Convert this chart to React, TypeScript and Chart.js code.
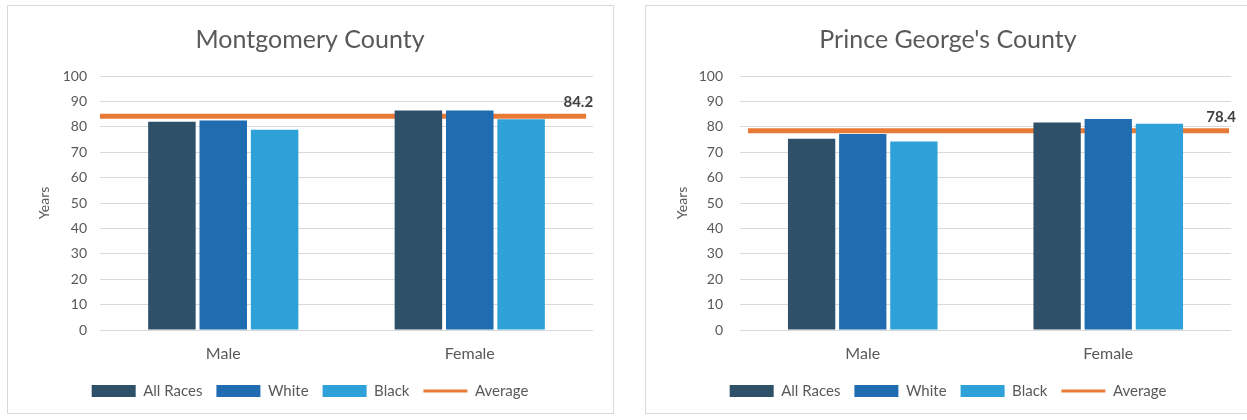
import React, { useEffect, useRef } from 'react';
import { Chart, registerables } from 'chart.js';

Chart.register(...registerables);

const categories = ['Male', 'Female'];
const seriesNames = ['All Races', 'White', 'Black', 'Average'];

const montgomeryAllRaces = [82.0, 86.4];
const montgomeryWhite = [82.5, 86.4];
const montgomeryBlack = [78.8, 83.0];
const montgomeryAverage = 84.2;

const pgAllRaces = [75.3, 81.7];
const pgWhite = [77.2, 83.1];
const pgBlack = [74.2, 81.2];
const pgAverage = 78.4;

const yMin = 0;
const yMax = 100;
const yStep = 10;

const COLORS = {
  all: '#2E5068',
  white: '#1F6CB1',
  black: '#2DA1D8',
  avg: '#E97A36',
  text: '#595959',
  grid: '#D9D9D9',
};

const FONT = 'Lato, "Open Sans", sans-serif';

const avgLabelPlugin = {
  id: 'avgLabel',
  afterDatasetsDraw(chart: any) {
    const idx = chart.data.datasets.findIndex((d: any) => d.type === 'line');
    if (idx < 0) return;
    const meta = chart.getDatasetMeta(idx);
    const pts = meta.data;
    if (!pts.length) return;
    const last = pts[pts.length - 1];
    const value = chart.data.datasets[idx].data[pts.length - 1].y;
    const ctx = chart.ctx;
    ctx.save();
    ctx.font = `bold 15px ${FONT}`;
    ctx.fillStyle = '#404040';
    ctx.textAlign = 'right';
    ctx.textBaseline = 'middle';
    ctx.fillText(value.toFixed(1), last.x + 7, last.y - 13.5);
    ctx.restore();
  },
};

type Spec = {
  title: string;
  allRaces: number[];
  white: number[];
  black: number[];
  avg: number;
  yAxisWidth: number;
  tickPad: number;
  avgFrom: number;
  avgTo: number;
};

function toPoints(values: number[]) {
  return values.map((v, i) => ({ x: i + 0.5, y: v }));
}

function makeConfig(s: Spec): any {
  const barCommon = {
    categoryPercentage: 0.625,
    barPercentage: 0.925,
    borderWidth: 0,
  };
  const datasets: any[] = [
    { type: 'bar', label: seriesNames[0], data: toPoints(s.allRaces), backgroundColor: COLORS.all, ...barCommon },
    { type: 'bar', label: seriesNames[1], data: toPoints(s.white), backgroundColor: COLORS.white, ...barCommon },
    { type: 'bar', label: seriesNames[2], data: toPoints(s.black), backgroundColor: COLORS.black, ...barCommon },
    {
      type: 'line',
      label: seriesNames[3],
      data: [
        { x: s.avgFrom, y: s.avg },
        { x: s.avgTo, y: s.avg },
      ],
      borderColor: COLORS.avg,
      backgroundColor: COLORS.avg,
      borderWidth: 5,
      pointRadius: 0,
      fill: false,
    },
  ];
  return {
    type: 'bar',
    data: { datasets },
    options: {
      responsive: false,
      animation: false,
      devicePixelRatio: 1,
      layout: { padding: { left: 19, right: 19, top: 0, bottom: 7.5 } },
      scales: {
        x: {
          type: 'linear',
          min: 0,
          max: categories.length,
          offset: false,
          grid: { display: false, drawTicks: false },
          border: { display: false },
          afterBuildTicks: (sc: any) => {
            sc.ticks = categories.map((_, i) => ({ value: i + 0.5 }));
          },
          ticks: {
            color: COLORS.text,
            font: { family: FONT, size: 16 },
            padding: 14,
            autoSkip: false,
            maxRotation: 0,
            callback: (_v: any, i: number) => categories[i],
          },
          afterFit: (sc: any) => {
            sc.height = 39.5;
          },
        },
        y: {
          min: yMin,
          max: yMax,
          border: { display: false },
          grid: { color: COLORS.grid, lineWidth: 1, drawTicks: false },
          ticks: {
            stepSize: yStep,
            color: COLORS.text,
            font: { family: FONT, size: 14 },
            padding: s.tickPad,
          },
          title: {
            display: true,
            text: 'Years',
            color: COLORS.text,
            font: { family: FONT, size: 14 },
            padding: { top: 9, bottom: 0 },
          },
          afterFit: (sc: any) => {
            sc.width = s.yAxisWidth;
          },
        },
      },
      plugins: {
        tooltip: { enabled: false },
        title: {
          display: true,
          text: s.title,
          color: COLORS.text,
          font: { family: FONT, size: 25, weight: 'normal' },
          padding: { top: 19, bottom: 21 },
        },
        legend: {
          position: 'bottom',
          labels: {
            usePointStyle: true,
            pointStyleWidth: 44,
            boxHeight: 12,
            padding: 14,
            color: COLORS.text,
            font: { family: FONT, size: 15 },
            generateLabels: (chart: any) =>
              chart.data.datasets.map((ds: any, i: number) => {
                const isLine = ds.type === 'line';
                return {
                  text: ds.label,
                  fillStyle: isLine ? ds.borderColor : ds.backgroundColor,
                  strokeStyle: isLine ? ds.borderColor : ds.backgroundColor,
                  lineWidth: isLine ? 3 : 0,
                  pointStyle: isLine ? 'line' : 'rect',
                  hidden: false,
                  datasetIndex: i,
                  fontColor: COLORS.text,
                };
              }),
          },
        },
      },
    },
    plugins: [avgLabelPlugin],
  };
}

function ChartCanvas({ spec, left }: { spec: Spec; left: number }) {
  const ref = useRef<HTMLCanvasElement | null>(null);
  useEffect(() => {
    if (!ref.current) return;
    const chart = new Chart(ref.current, makeConfig(spec));
    return () => chart.destroy();
  }, [spec]);
  return (
    <canvas
      ref={ref}
      width={604}
      height={410}
      style={{ position: 'absolute', left, top: 6, width: 604, height: 410 }}
    />
  );
}

const leftSpec: Spec = {
  title: 'Montgomery County',
  allRaces: montgomeryAllRaces,
  white: montgomeryWhite,
  black: montgomeryBlack,
  avg: montgomeryAverage,
  yAxisWidth: 73,
  tickPad: 13,
  avgFrom: -0.008,
  avgTo: 1.972,
};

const rightSpec: Spec = {
  title: "Prince George's County",
  allRaces: pgAllRaces,
  white: pgWhite,
  black: pgBlack,
  avg: pgAverage,
  yAxisWidth: 75,
  tickPad: 17,
  avgFrom: 0.0325,
  avgTo: 1.992,
};

export default function App() {
  Chart.defaults.font.family = FONT;
  return (
    <div
      style={{
        position: 'absolute',
        left: 0,
        top: 0,
        width: 1247,
        height: 420,
        overflow: 'hidden',
        background: '#ffffff',
      }}
    >
      <div
        style={{
          position: 'absolute',
          left: 7,
          top: 5,
          width: 607,
          height: 409,
          border: '1px solid #D9D9D9',
          boxSizing: 'border-box',
        }}
      />
      <div
        style={{
          position: 'absolute',
          left: 645,
          top: 5,
          width: 620,
          height: 409,
          border: '1px solid #D9D9D9',
          boxSizing: 'border-box',
        }}
      />
      <ChartCanvas spec={leftSpec} left={8} />
      <ChartCanvas spec={rightSpec} left={646} />
    </div>
  );
}
